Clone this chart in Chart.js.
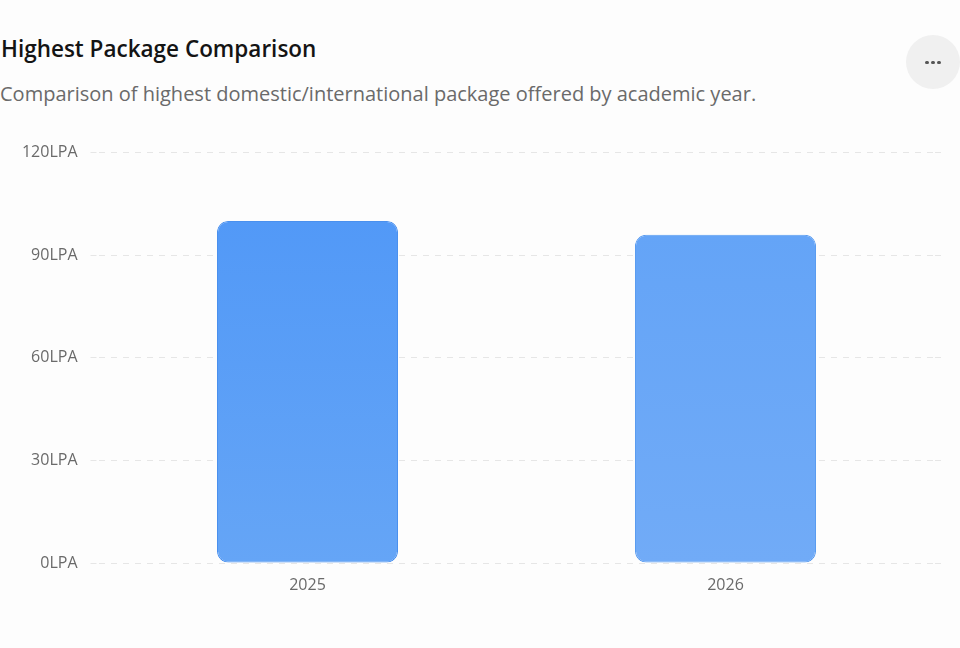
<!DOCTYPE html>
<html>
<head>
<meta charset="utf-8">
<script src="https://cdn.jsdelivr.net/npm/chart.js@4.4.1/dist/chart.umd.min.js"></script>
<style>
  html, body { margin: 0; padding: 0; background: #fdfdfd; width: 960px; height: 648px; overflow: hidden; font-family: "Open Sans", "Noto Sans", sans-serif; }
  #title { position: absolute; left: 1px; top: 32.5px; font-size: 22.5px; font-weight: 600; color: #141414; white-space: nowrap; }
  #subtitle { position: absolute; left: 0px; top: 79.5px; font-size: 20px; color: #6a6a6a; white-space: nowrap; }
  #menu { position: absolute; left: 906px; top: 35px; width: 54px; height: 54px; border-radius: 50%; background: #f0f0f0; }
  .dot { position: absolute; top: 25.5px; width: 3.6px; height: 3.6px; border-radius: 50%; background: #555; }
  #wrap { position: absolute; left: 0; top: 130px; width: 960px; height: 500px; }
</style>
</head>
<body>
<div id="title">Highest Package Comparison</div>
<div id="subtitle">Comparison of highest domestic/international package offered by academic year.</div>
<div id="menu"><div class="dot" style="left:19.2px"></div><div class="dot" style="left:25.2px"></div><div class="dot" style="left:31.2px"></div></div>
<div id="wrap"><canvas id="c"></canvas></div>
<script>
const categories = ["2025", "2026"];
const highestPackage = [100, 96];
const yTicks = [0, 30, 60, 90, 120];
const tickSuffix = "LPA";

const topColors = ["#5299F7", "#64A4F7"];
const bottomColors = ["#65A5F6", "#71ABF7"];
const borderColors = ["#4A90EE", "#5A9CF0"];

function barGradient(ctx) {
  const chart = ctx.chart;
  const area = chart.chartArea;
  const i = ctx.dataIndex;
  if (!area) return topColors[i % 2];
  const y0 = chart.scales.y.getPixelForValue(highestPackage[i]);
  const g = chart.ctx.createLinearGradient(0, y0, 0, area.bottom);
  g.addColorStop(0, topColors[i]);
  g.addColorStop(1, bottomColors[i]);
  return g;
}

const dash = [6, 6];
const gridColor = "#e6e6e6";
const fontFamily = "'Open Sans', 'Noto Sans', sans-serif";

new Chart(document.getElementById("c"), {
  type: "bar",
  data: {
    labels: categories,
    datasets: [{
      label: "Highest Package",
      data: highestPackage,
      backgroundColor: barGradient,
      borderColor: (ctx) => borderColors[ctx.dataIndex % 2],
      borderWidth: 1,
      borderRadius: 11,
      borderSkipped: false,
      barPercentage: 0.866,
      categoryPercentage: 0.5
    }]
  },
  options: {
    responsive: true,
    maintainAspectRatio: false,
    animation: false,
    layout: { padding: { top: 20, left: 0, right: 0, bottom: 0 } },
    plugins: { legend: { display: false }, tooltip: { enabled: false } },
    scales: {
      x: {
        grid: { display: false, drawTicks: false },
        border: { display: false },
        ticks: { color: "#6a6a6a", font: { family: fontFamily, size: 16 }, padding: 13 },
        afterFit: (s) => { s.height = 67; }
      },
      y: {
        min: 0, max: 120,
        afterBuildTicks: (s) => { s.ticks = yTicks.map(v => ({ value: v })); },
        grid: { color: gridColor, lineWidth: 1, tickLength: 8, tickColor: gridColor, tickBorderDash: dash, drawTicks: true },
        border: { display: false, dash: dash },
        ticks: {
          color: "#6a6a6a",
          font: { family: fontFamily, size: 16 },
          padding: 13,
          callback: (v) => v + tickSuffix
        },
        afterFit: (s) => { s.width = 98.5; }
      },
      y2: {
        position: "right",
        min: 0, max: 120,
        afterBuildTicks: (s) => { s.ticks = yTicks.map(v => ({ value: v })); },
        grid: { drawOnChartArea: false, color: gridColor, tickLength: 8, tickColor: gridColor, tickBorderDash: dash, drawTicks: true },
        border: { display: false },
        ticks: { display: false },
        afterFit: (s) => { s.width = 25.5; }
      }
    }
  }
});
</script>
</body>
</html>
